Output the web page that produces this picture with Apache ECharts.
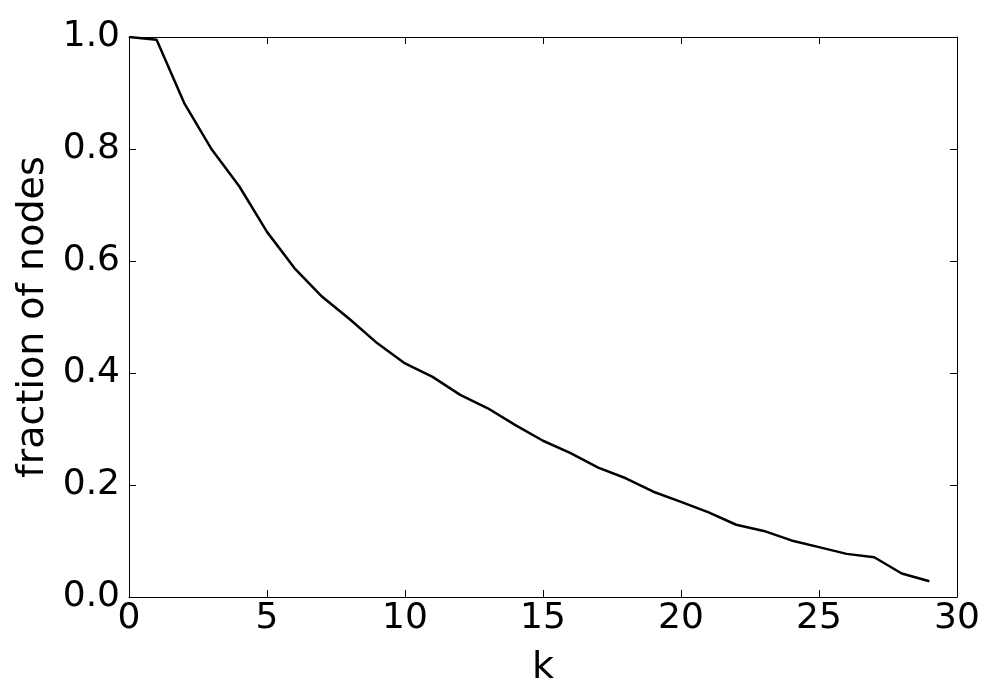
<!DOCTYPE html>
<html>
<head>
<meta charset="utf-8">
<script src="https://cdn.jsdelivr.net/npm/echarts@6/dist/echarts.min.js"></script>
<style>
  html, body { margin: 0; padding: 0; background: #fff; }
  #chart { width: 1000px; height: 700px; }
</style>
</head>
<body>
<div id="chart"></div>
<script>
// k values and fraction of nodes
const kValues = [0, 1, 2, 3, 4, 5, 6, 7, 8, 9, 10, 11, 12, 13, 14, 15, 16, 17, 18, 19, 20, 21, 22, 23, 24, 25, 26, 27, 28, 29];
const fraction = [1.0, 0.995, 0.882, 0.799, 0.733, 0.652, 0.587, 0.536, 0.496, 0.453, 0.417, 0.393, 0.361, 0.337, 0.307, 0.279, 0.257, 0.231, 0.212, 0.188, 0.170, 0.151, 0.129, 0.118, 0.101, 0.089, 0.077, 0.071, 0.042, 0.028];

const font = 'DejaVu Sans';

const chart = echarts.init(document.getElementById('chart'));

const tickStyle = { show: true, inside: true, length: 7, lineStyle: { color: '#000', width: 1 } };
const lineStyle = { show: true, onZero: false, lineStyle: { color: '#000', width: 1 } };

const option = {
  animation: false,
  backgroundColor: '#fff',
  grid: { left: 129, top: 37, right: 43, bottom: 103, containLabel: false, outerBoundsMode: 'none' },
  xAxis: [
    {
      type: 'value', min: 0, max: 30, interval: 5,
      name: 'k', nameLocation: 'middle', nameGap: 52,
      nameTextStyle: { fontFamily: font, fontSize: 38, color: '#000' },
      axisLine: lineStyle, axisTick: tickStyle, splitLine: { show: false },
      axisLabel: { fontFamily: font, fontSize: 36, color: '#000', margin: 4,
        formatter: v => String(v) }
    },
    {
      type: 'value', min: 0, max: 30, interval: 5, position: 'top',
      axisLine: lineStyle, axisTick: tickStyle, splitLine: { show: false },
      axisLabel: { show: false }
    }
  ],
  yAxis: [
    {
      type: 'value', min: 0, max: 1, interval: 0.2,
      name: 'fraction of nodes', nameLocation: 'middle', nameGap: 77,
      nameTextStyle: { fontFamily: font, fontSize: 38, color: '#000' },
      axisLine: lineStyle, axisTick: tickStyle, splitLine: { show: false },
      axisLabel: { fontFamily: font, fontSize: 36, color: '#000', margin: 9,
        formatter: v => v.toFixed(1) }
    },
    {
      type: 'value', min: 0, max: 1, interval: 0.2, position: 'right',
      axisLine: lineStyle, axisTick: tickStyle, splitLine: { show: false },
      axisLabel: { show: false }
    }
  ],
  series: [
    {
      type: 'line',
      data: kValues.map((k, i) => [k, fraction[i]]),
      showSymbol: false,
      lineStyle: { color: '#000', width: 2.5 },
      itemStyle: { color: '#000' }
    }
  ]
};

chart.setOption(option);
</script>
</body>
</html>
